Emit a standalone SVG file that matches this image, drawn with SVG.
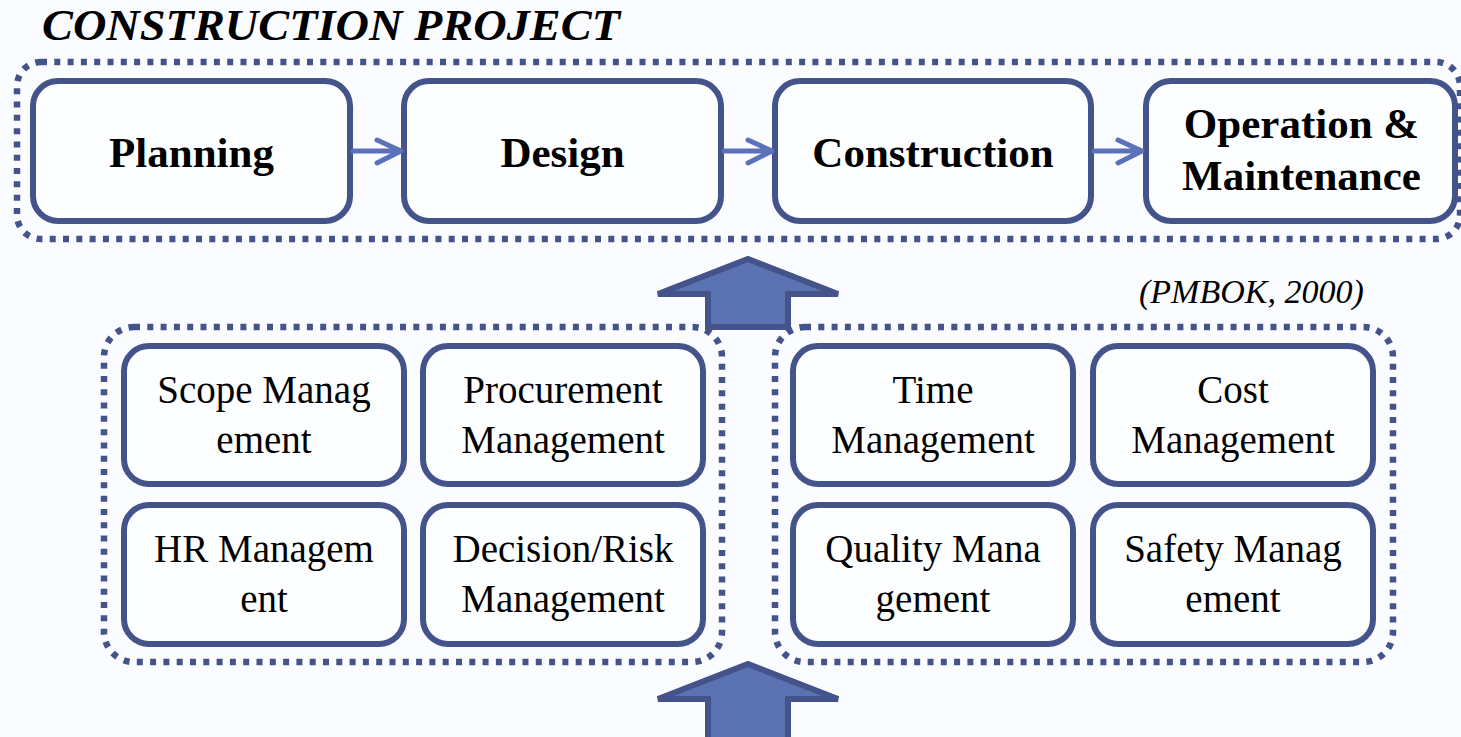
<svg xmlns="http://www.w3.org/2000/svg" width="1461" height="737" viewBox="0 0 1461 737">
  <defs>
    <style>
      .bg { fill: #fbfcff; }
      .frame { fill: none; stroke: #44548a; stroke-width: 6.5; stroke-dasharray: 6 7.3; }
      .box { fill: #fdfeff; stroke: #44548a; stroke-width: 6; }
      .phase { font-family: "Liberation Serif", "Times New Roman", serif; font-weight: bold; font-size: 43px; fill: #000; text-anchor: middle; }
      .area { font-family: "Liberation Serif", "Times New Roman", serif; font-size: 39px; fill: #000; text-anchor: middle; }
      .title { font-family: "Liberation Serif", "Times New Roman", serif; font-weight: bold; font-style: italic; font-size: 45px; fill: #000; }
      .cite { font-family: "Liberation Serif", "Times New Roman", serif; font-style: italic; font-size: 34px; fill: #000; }
      .flow { fill: none; stroke: #5b72b8; stroke-width: 5; stroke-linecap: round; stroke-linejoin: round; }
      .bigarrow { fill: #5b72b2; stroke: #44548a; stroke-width: 6; stroke-linejoin: miter; }
    </style>
  </defs>

  <rect class="bg" x="0" y="0" width="1461" height="737"/>

  <text class="title" x="42" y="40" textLength="578" lengthAdjust="spacingAndGlyphs">CONSTRUCTION PROJECT</text>

  <!-- project lifecycle frame -->
  <rect id="project-frame" class="frame" x="17" y="62" width="1443" height="177" rx="24"/>

  <!-- lifecycle phases -->
  <g id="planning">
    <rect class="box" x="33" y="81" width="317" height="140" rx="25"/>
    <text class="phase" x="191.5" y="167">Planning</text>
  </g>
  <g id="design">
    <rect class="box" x="404" y="81" width="317" height="140" rx="25"/>
    <text class="phase" x="562.5" y="167">Design</text>
  </g>
  <g id="construction">
    <rect class="box" x="775" y="81" width="316" height="140" rx="25"/>
    <text class="phase" x="933" y="167">Construction</text>
  </g>
  <g id="operation">
    <rect class="box" x="1146" y="81" width="309" height="140" rx="25"/>
    <text class="phase" x="1301.5" y="138">Operation &amp;</text>
    <text class="phase" x="1301.5" y="190">Maintenance</text>
  </g>

  <!-- phase connectors and support arrows -->
  <g id="connectors">
    <path class="flow" d="M353 151 H400 M377 140 L401 151 L377 163"/>
    <path class="flow" d="M724 151 H771 M748 140 L772 151 L748 163"/>
    <path class="flow" d="M1094 151 H1142 M1118 140 L1142 151 L1118 163"/>
    <polygon class="bigarrow" points="748,259 838,294 788,294 788,327 708,327 708,294 658,294"/>
    <polygon class="bigarrow" points="748,664 838,699 788,699 788,740 708,740 708,699 658,699"/>
  </g>

  <text class="cite" x="1139" y="303">(PMBOK, 2000)</text>

  <!-- knowledge area groups -->
  <rect id="group-left" class="frame" x="104" y="327" width="618" height="335" rx="30"/>
  <rect id="group-right" class="frame" x="775" y="327" width="618" height="335" rx="30"/>

  <g id="scope">
    <rect class="box" x="124" y="346" width="280" height="138" rx="25"/>
    <text class="area" x="264" y="403">Scope Manag</text>
    <text class="area" x="264" y="453">ement</text>
  </g>
  <g id="procurement">
    <rect class="box" x="423" y="346" width="280" height="138" rx="25"/>
    <text class="area" x="563" y="403">Procurement</text>
    <text class="area" x="563" y="453">Management</text>
  </g>
  <g id="hr">
    <rect class="box" x="124" y="505" width="280" height="139" rx="25"/>
    <text class="area" x="264" y="562">HR Managem</text>
    <text class="area" x="264" y="612">ent</text>
  </g>
  <g id="decision-risk">
    <rect class="box" x="423" y="505" width="280" height="139" rx="25"/>
    <text class="area" x="563" y="562">Decision/Risk</text>
    <text class="area" x="563" y="612">Management</text>
  </g>
  <g id="time">
    <rect class="box" x="793" y="346" width="280" height="138" rx="25"/>
    <text class="area" x="933" y="403">Time</text>
    <text class="area" x="933" y="453">Management</text>
  </g>
  <g id="cost">
    <rect class="box" x="1093" y="346" width="280" height="138" rx="25"/>
    <text class="area" x="1233" y="403">Cost</text>
    <text class="area" x="1233" y="453">Management</text>
  </g>
  <g id="quality">
    <rect class="box" x="793" y="505" width="280" height="139" rx="25"/>
    <text class="area" x="933" y="562">Quality Mana</text>
    <text class="area" x="933" y="612">gement</text>
  </g>
  <g id="safety">
    <rect class="box" x="1093" y="505" width="280" height="139" rx="25"/>
    <text class="area" x="1233" y="562">Safety Manag</text>
    <text class="area" x="1233" y="612">ement</text>
  </g>
</svg>
